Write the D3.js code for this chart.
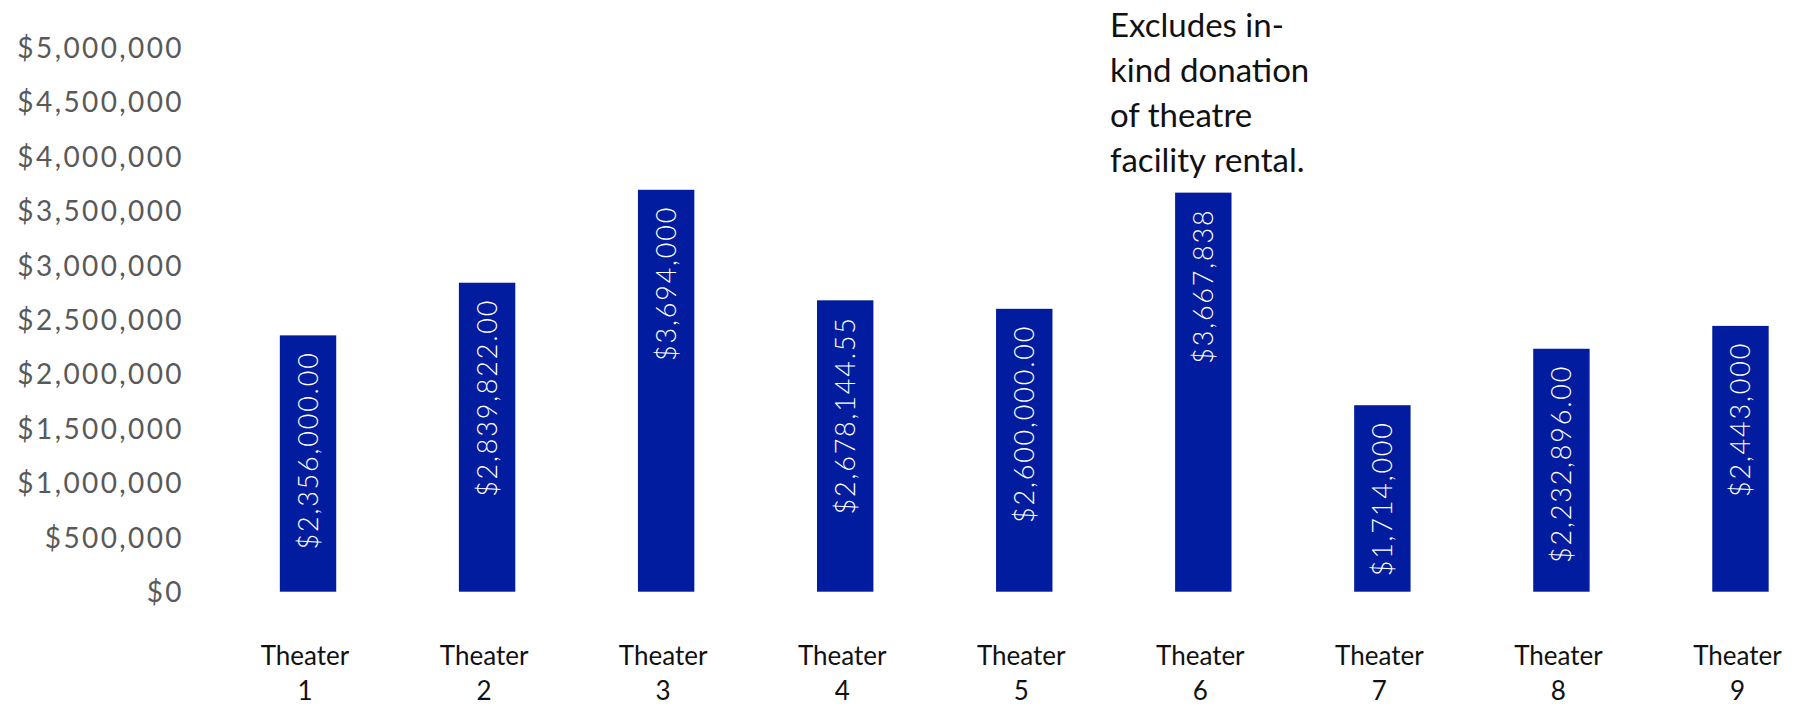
<!DOCTYPE html>
<html>
<head>
<meta charset="utf-8">
<script src="https://cdn.jsdelivr.net/npm/d3@7"></script>
<style>
  html, body { margin: 0; padding: 0; background: #ffffff; }
  svg { display: block; }
</style>
</head>
<body>
<svg id="chart" width="1793" height="707"></svg>
<script>
// Budget per theater
const categories = ["1", "2", "3", "4", "5", "6", "7", "8", "9"];
const values = [2356000, 2839822, 3694000, 2678144.55, 2600000, 3667838, 1714000, 2232896, 2443000];
const valueLabels = ["$2,356,000.00", "$2,839,822.00", "$3,694,000", "$2,678,144.55", "$2,600,000.00",
                     "$3,667,838", "$1,714,000", "$2,232,896.00", "$2,443,000"];
const yTicks = [0, 500000, 1000000, 1500000, 2000000, 2500000, 3000000, 3500000, 4000000, 4500000, 5000000];
const noteLines = ["Excludes in-", "kind donation", "of theatre", "facility rental."];

const svg = d3.select("#chart");
const barColor = "#011c9f";

const x = d3.scaleBand()
  .domain(categories)
  .range([218.5, 1830])
  .paddingInner(0.685)
  .paddingOuter(0.3425);

const y = d3.scaleLinear()
  .domain([0, 5000000])
  .range([591.7, 47.7]);

const fmt = d3.format(",");

// Y axis: labels only
const yAxis = svg.append("g")
  .attr("transform", "translate(184,0)")
  .call(d3.axisLeft(y).tickValues(yTicks).tickSize(0).tickPadding(0)
    .tickFormat(d => "$" + fmt(d)));
yAxis.select(".domain").remove();
yAxis.selectAll("text")
  .attr("fill", "#595959")
  .attr("font-family", "Lato, 'Open Sans', sans-serif")
  .attr("font-size", 28)
  .attr("letter-spacing", 2.4)
  .attr("dy", "0.35em");

// Bars
svg.append("g").selectAll("rect")
  .data(values)
  .join("rect")
  .attr("x", (d, i) => x(categories[i]))
  .attr("width", x.bandwidth())
  .attr("y", d => y(d))
  .attr("height", d => y(0) - y(d))
  .attr("fill", barColor);

// Value labels inside bars, rotated
svg.append("g").selectAll("text")
  .data(values)
  .join("text")
  .attr("transform", (d, i) =>
    `translate(${x(categories[i]) + x.bandwidth() / 2},${y(d) + 16}) rotate(-90)`)
  .attr("text-anchor", "end")
  .attr("dy", "0.36em")
  .attr("fill", "#ffffff")
  .attr("font-family", "Lato, 'Open Sans', sans-serif")
  .attr("font-weight", 300)
  .attr("font-size", 27)
  .attr("letter-spacing", 1.8)
  .text((d, i) => valueLabels[i]);

// Category labels (two lines)
const xl = svg.append("g").selectAll("text")
  .data(categories)
  .join("text")
  .attr("x", d => x(d) + x.bandwidth() / 2 - 3)
  .attr("y", 665)
  .attr("text-anchor", "middle")
  .attr("fill", "#111111")
  .attr("font-family", "Lato, 'Open Sans', sans-serif")
  .attr("font-size", 26);
xl.append("tspan").text("Theater");
xl.append("tspan")
  .attr("x", d => x(d) + x.bandwidth() / 2 - 3)
  .attr("dy", 35)
  .text(d => d);

// Note above Theater 6
const note = svg.append("text")
  .attr("x", 1110)
  .attr("y", 37)
  .attr("fill", "#111111")
  .attr("font-family", "Lato, 'Open Sans', sans-serif")
  .attr("font-size", 33);
note.selectAll("tspan")
  .data(noteLines)
  .join("tspan")
  .attr("x", 1110)
  .attr("dy", (d, i) => i === 0 ? 0 : 45)
  .text(d => d);
</script>
</body>
</html>
